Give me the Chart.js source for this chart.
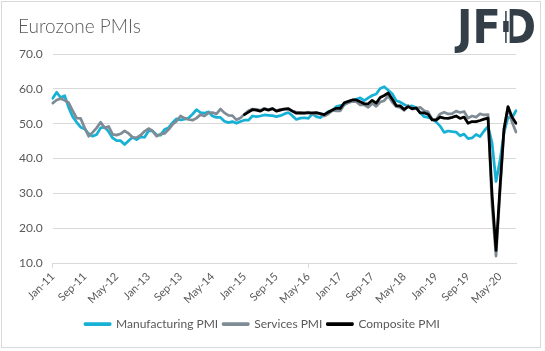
<!DOCTYPE html>
<html>
<head>
<meta charset="utf-8">
<script src="https://cdn.jsdelivr.net/npm/chart.js@4/dist/chart.umd.min.js"></script>
<style>
  body { margin: 0; background: #fff; }
  canvas { display: block; }
</style>
</head>
<body>
<canvas id="chart" width="545" height="351"></canvas>
<script>
'use strict';
// Eurozone PMIs, monthly Jan-11 .. Sep-20
const monthNames = ['Jan', 'Feb', 'Mar', 'Apr', 'May', 'Jun', 'Jul', 'Aug', 'Sep', 'Oct', 'Nov', 'Dec'];
const years = ['11', '12', '13', '14', '15', '16', '17', '18', '19', '20'];
const lastMonthCount = 9; // 2020 runs to Sep

const manufacturing = [
  57.3, 59.0, 57.5, 58.0, 54.6, 52.0, 50.4, 49.0, 48.5, 47.1, 46.4, 46.9,
  48.8, 49.0, 47.7, 45.9, 45.1, 45.1, 44.0, 45.1, 46.1, 45.4, 46.2, 46.1,
  47.9, 47.9, 46.8, 46.7, 48.3, 48.8, 50.3, 51.4, 51.1, 51.3, 51.6, 52.7,
  54.0, 53.2, 53.0, 53.4, 52.2, 51.8, 51.8, 50.7, 50.3, 50.6, 50.1, 50.6,
  51.0, 51.0, 52.2, 52.0, 52.2, 52.5, 52.4, 52.3, 52.0, 52.3, 52.8, 53.2,
  52.3, 51.2, 51.6, 51.7, 51.5, 52.8, 52.0, 51.7, 52.6, 53.5, 53.7, 54.9,
  55.2, 55.4, 56.2, 56.7, 57.0, 57.4, 56.6, 57.4, 58.1, 58.5, 60.1, 60.6,
  59.6, 58.6, 56.6, 56.2, 55.5, 54.9, 55.1, 54.6, 53.2, 52.0, 51.8, 51.4,
  50.5, 49.3, 47.5, 47.9, 47.7, 47.6, 46.5, 47.0, 45.7, 45.9, 46.9, 46.3,
  47.9, 49.2, 44.5, 33.4, 39.4, 47.4, 51.8, 51.7, 53.7
];
const services = [
  55.9, 56.8, 57.2, 56.7, 56.0, 53.7, 51.6, 51.5, 48.8, 46.4, 47.5, 48.8,
  50.4, 48.8, 49.2, 46.9, 46.7, 47.1, 47.9, 47.2, 46.1, 46.0, 46.7, 47.8,
  48.6, 47.9, 46.4, 47.0, 47.2, 48.3, 49.8, 50.7, 52.2, 51.6, 51.2, 51.0,
  51.6, 52.6, 52.2, 53.1, 53.2, 52.8, 54.2, 53.1, 52.4, 52.3, 51.1, 51.6,
  52.7, 53.7, 54.2, 54.1, 53.8, 54.4, 54.0, 54.4, 53.7, 54.1, 54.2, 54.2,
  53.6, 53.3, 53.1, 53.1, 53.3, 52.8, 52.9, 52.8, 52.2, 52.8, 53.8, 53.7,
  53.7, 55.5, 56.0, 56.4, 56.3, 55.4, 55.4, 54.7, 55.8, 55.0, 56.2, 56.6,
  58.0, 56.2, 54.9, 54.7, 53.8, 55.2, 54.2, 54.4, 54.7, 53.7, 53.4, 51.2,
  51.2, 52.8, 53.3, 52.8, 52.9, 53.6, 53.2, 53.5, 51.6, 52.2, 51.9, 52.8,
  52.5, 52.6, 26.4, 12.0, 30.5, 48.3, 54.7, 50.5, 47.6
];
// composite series only starts in Jan-15
const compositeStart = 48;
const composite = [
  52.6, 53.3, 54.0, 53.9, 53.6, 54.2, 53.9, 54.3, 53.6, 53.9, 54.2, 54.3,
  53.6, 53.0, 53.1, 53.0, 53.1, 53.1, 53.2, 52.9, 52.6, 53.3, 53.9, 54.4,
  54.4, 56.0, 56.4, 56.8, 56.8, 56.3, 55.7, 55.7, 56.7, 55.9, 57.5, 58.1,
  58.8, 57.1, 55.2, 55.1, 54.1, 54.9, 54.3, 54.5, 53.1, 53.1, 52.7, 51.1,
  51.0, 51.9, 51.6, 51.5, 51.8, 52.2, 51.5, 51.9, 50.1, 50.6, 50.6, 50.9,
  51.3, 51.6, 29.7, 13.6, 31.9, 48.5, 54.9, 51.9, 50.1
];
const yTicks = [10, 20, 30, 40, 50, 60, 70];

const labels = [];
years.forEach((y, yi) => {
  const n = yi === years.length - 1 ? lastMonthCount : 12;
  for (let m = 0; m < n; m++) labels.push(monthNames[m] + '-' + y);
});
const compositeData = new Array(compositeStart).fill(null).concat(composite);

const textColor = '#595959';
const gridColor = '#d9d9d9';
const font = 'Lato, "Open Sans", sans-serif';

// frame, title and logo
const decor = {
  id: 'decor',
  beforeDraw(chart) {
    const c = chart.ctx;
    c.save();
    c.fillStyle = '#fff';
    c.fillRect(0, 0, chart.width, chart.height);
    c.strokeStyle = gridColor;
    c.lineWidth = 1;
    c.strokeRect(1.5, 1.5, 539, 346);
    c.restore();
  },
  afterDraw(chart) {
    const c = chart.ctx;
    c.save();
    c.fillStyle = textColor;
    c.font = '300 19px ' + font;
    c.textBaseline = 'alphabetic';
    c.fillText('Eurozone PMIs', 18, 33);

    c.fillStyle = '#343e48';
    c.font = 'bold 46px "Liberation Sans Narrow", "DejaVu Sans Condensed", sans-serif';
    c.fillText('JF', 457, 43);
    const wjf = c.measureText('JF').width;
    const dx = 457 + wjf + 1;
    c.fillText('D', dx, 43);
    // candle replaces the stem of the D
    c.fillStyle = '#fff';
    c.fillRect(dx, 8, 8, 38);
    c.fillStyle = '#343e48';
    c.fillRect(dx + 3.5, 11, 1.5, 32);
    c.fillRect(dx + 1.5, 21, 5.5, 11);
    c.restore();
  }
};

const ctx = document.getElementById('chart').getContext('2d');
new Chart(ctx, {
  type: 'line',
  data: {
    labels: labels,
    datasets: [
      {
        label: 'Manufacturing PMI',
        data: manufacturing,
        borderColor: '#17b1d6',
        backgroundColor: '#17b1d6',
        order: 2
      },
      {
        label: 'Services PMI',
        data: services,
        borderColor: '#7f8c95',
        backgroundColor: '#7f8c95',
        order: 1
      },
      {
        label: 'Composite PMI',
        data: compositeData,
        borderColor: '#000000',
        backgroundColor: '#000000',
        order: 0
      }
    ]
  },
  options: {
    responsive: false,
    animation: false,
    devicePixelRatio: 1,
    elements: {
      line: { borderWidth: 2.75, tension: 0, borderJoinStyle: 'round', borderCapStyle: 'round' },
      point: { radius: 0 }
    },
    layout: { padding: { left: 9, right: 29, top: 54, bottom: 11 } },
    scales: {
      x: {
        ticks: {
          autoSkip: false,
          maxRotation: 45,
          minRotation: 45,
          color: textColor,
          font: { family: font, size: 11 },
          padding: 2,
          callback: (v, i) => (i % 8 === 0 ? labels[i] : null)
        },
        grid: {
          drawOnChartArea: false,
          tickLength: 5,
          color: c => (c.index % 8 === 0 ? gridColor : 'rgba(0,0,0,0)')
        },
        border: { color: gridColor },
        afterFit: scale => { scale.height = 50; }
      },
      y: {
        min: 10,
        max: 70,
        afterBuildTicks: scale => { scale.ticks = yTicks.map(v => ({ value: v })); },
        ticks: {
          color: textColor,
          font: { family: font, size: 12 },
          padding: 10,
          callback: v => v.toFixed(1)
        },
        grid: { color: gridColor, drawTicks: false },
        border: { display: false }
      }
    },
    plugins: {
      legend: {
        position: 'bottom',
        labels: {
          boxWidth: 25,
          boxHeight: 1,
          padding: 5,
          color: textColor,
          font: { family: font, size: 12 },
          sort: (a, b) => a.datasetIndex - b.datasetIndex
        }
      },
      tooltip: { enabled: false }
    }
  },
  plugins: [decor]
});
</script>
</body>
</html>
